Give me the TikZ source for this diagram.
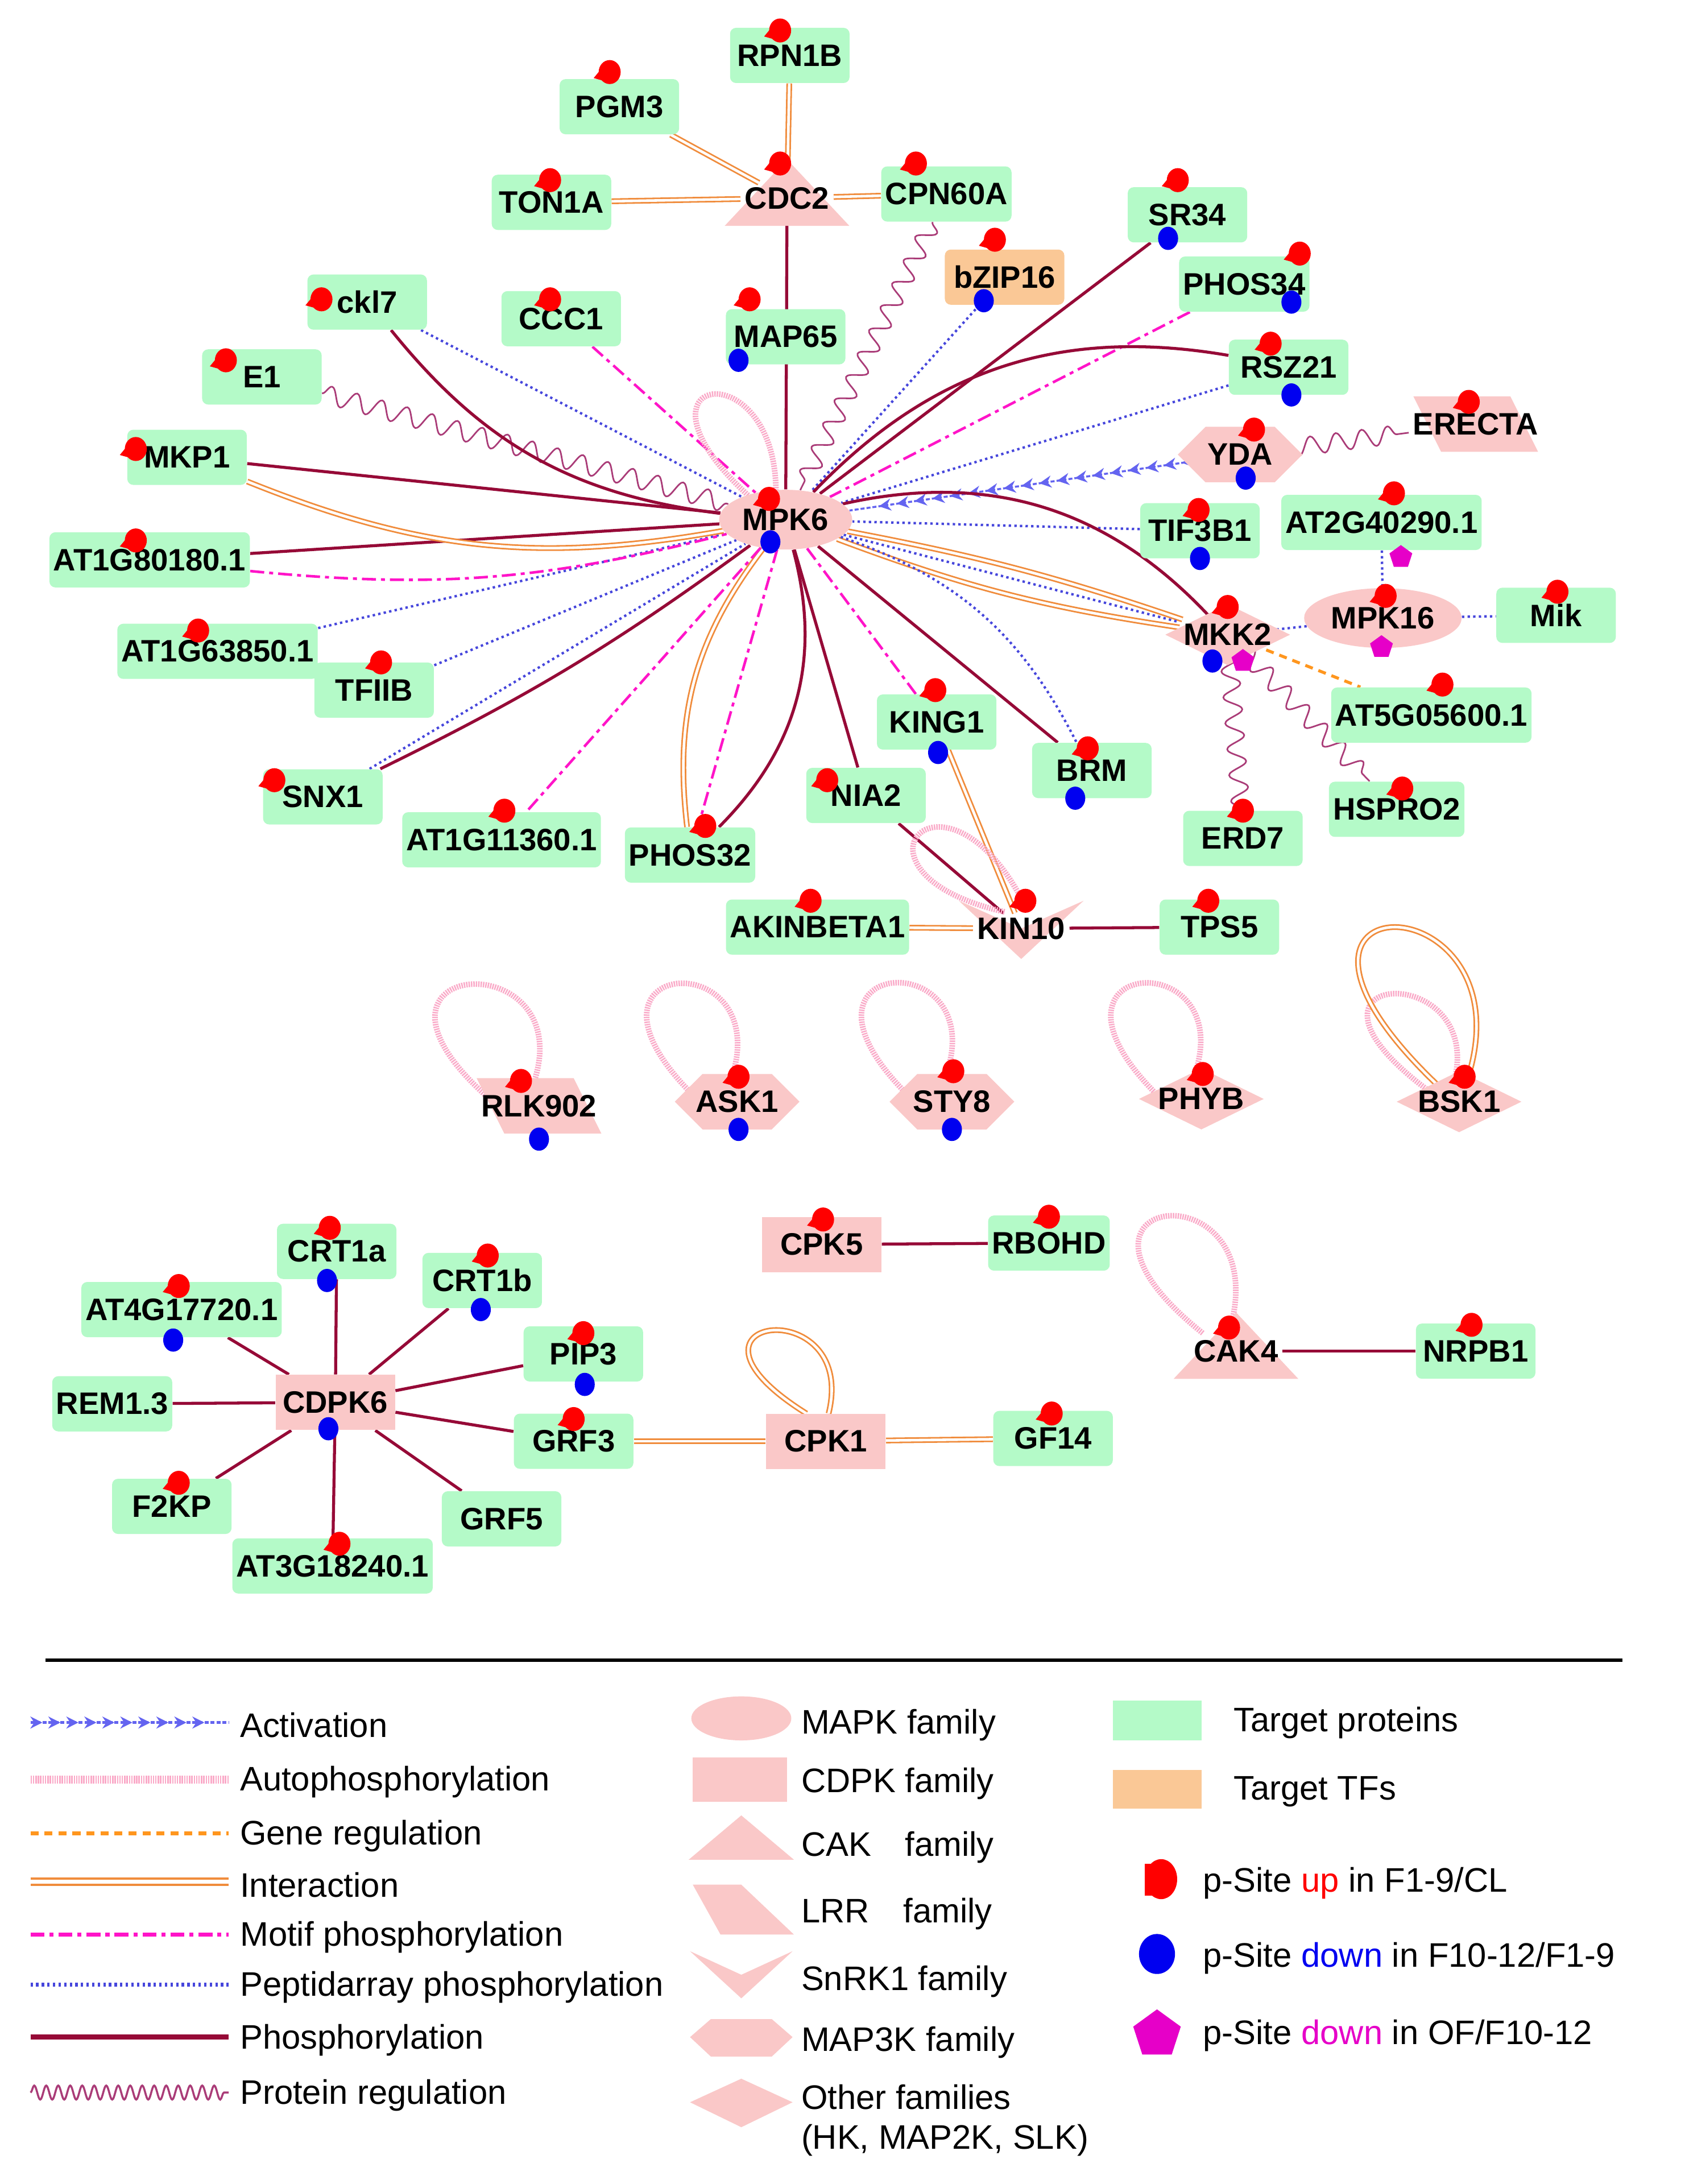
\documentclass[tikz,border=0pt]{standalone}
\usepackage{fontspec}
\setmainfont{Liberation Sans}
\usetikzlibrary{shapes.geometric,decorations.pathmorphing,decorations.markings,arrows.meta,backgrounds}
\definecolor{tgreen}{RGB}{180,250,200}
\definecolor{tfor}{RGB}{250,200,150}
\definecolor{pk}{RGB}{250,200,200}
\definecolor{phosc}{RGB}{150,10,55}
\definecolor{intc}{RGB}{240,140,60}
\definecolor{pepc}{RGB}{70,70,220}
\definecolor{motc}{RGB}{255,20,200}
\definecolor{protc}{RGB}{170,60,120}
\definecolor{autoc}{RGB}{250,170,200}
\definecolor{actc}{RGB}{100,100,240}
\definecolor{genec}{RGB}{255,150,30}
\definecolor{pred}{RGB}{255,0,0}
\definecolor{pblue}{RGB}{0,0,240}
\definecolor{pmag}{RGB}{230,0,200}
\tikzset{
 lab/.style={font=\fontsize{15.5}{17}\selectfont\bfseries, inner sep=2pt},
 tg/.style={lab, fill=tgreen, rounded corners=3pt, minimum width=2.1cm, minimum height=0.97cm},
 tf/.style={tg, fill=tfor},
 kel/.style={lab, ellipse, fill=pk, minimum width=2.0cm, minimum height=1.05cm},
 krect/.style={lab, fill=pk, minimum width=2.1cm, minimum height=0.97cm},
 kt/.style={lab},
 phos/.style={draw=phosc, line width=1.5pt},
 inter/.style={draw=intc, double=white, double distance=1.3pt, line width=0.8pt},
 pep/.style={draw=pepc, line width=1.2pt, dash pattern=on 1.2pt off 1.6pt},
 mot/.style={draw=motc, line width=1.3pt, dash pattern=on 7pt off 2.5pt on 2pt off 2.5pt},
 prot/.style={draw=protc, line width=0.8pt, decorate, decoration={snake, amplitude=4.5pt, segment length=13pt}},
 auto/.style={draw=autoc, line width=2.8pt, dash pattern=on 0.7pt off 0.5pt},
 act/.style={draw=actc, line width=1pt, dash pattern=on 2pt off 1pt, postaction={decorate}, decoration={markings, mark=between positions 0.06 and 0.96 step 9pt with {\arrow[actc]{Stealth[length=6pt,width=6pt]}}}},
 gene/.style={draw=genec, line width=1.5pt, dash pattern=on 4pt off 3pt},
}
\newcommand\pu[2]{\fill[pred] (#1,#2) circle[x radius=5.5pt,y radius=6pt]; \fill[pred] (#1,#2) +(-8pt,-3pt) -- +(-1pt,5.5pt) -- +(1pt,-5.5pt) -- cycle;}
\newcommand\pd[2]{\fill[pblue] (#1,#2) circle[x radius=5pt,y radius=5.8pt];}
\newcommand\pmg[2]{\node[regular polygon, regular polygon sides=5, fill=pmag, minimum size=12pt, inner sep=0pt] at (#1,#2) {};}
\newcommand\ktri[2]{\fill[pk] ({#1-45},{#2+20}) -- ({#1+45},{#2+20}) -- ({#1},{#2-28}) -- cycle;}
\newcommand\kpar[2]{\fill[pk] ({#1-45},{#2-20}) -- ({#1+25},{#2-20}) -- ({#1+45},{#2+20}) -- ({#1-25},{#2+20}) -- cycle;}
\newcommand\khex[2]{\fill[pk] ({#1-45},{#2}) -- ({#1-25},{#2-20}) -- ({#1+25},{#2-20}) -- ({#1+45},{#2}) -- ({#1+25},{#2+20}) -- ({#1-25},{#2+20}) -- cycle;}
\newcommand\kdia[2]{\fill[pk] ({#1-45},{#2}) -- ({#1},{#2-22}) -- ({#1+45},{#2}) -- ({#1},{#2+22}) -- cycle;}
\newcommand\kchev[2]{\fill[pk] ({#1-45},{#2-20}) -- ({#1},{#2}) -- ({#1+45},{#2-20}) -- ({#1},{#2+22}) -- cycle;}
\begin{document}
\begin{tikzpicture}[x=0.02436cm,y=-0.02436cm]
\useasboundingbox (0,0) rectangle (1216,1576);
% kinase shapes
\ktri{568}{143} \ktri{892}{975}
\kpar{1065}{306} \kpar{389}{798}
\khex{895}{328} \khex{532}{795} \khex{687}{795}
\kdia{886}{458} \kdia{867}{793} \kdia{1053}{795}
\kchev{737}{670}
% nodes
\node[tg] (RPN1B) at (570,40) {RPN1B};
\node[tg] (PGM3) at (447,77) {PGM3};
\node[tg] (TON1A) at (398,146) {TON1A};
\node[kt] (CDC2) at (568,143) {CDC2};
\node[tg] (CPN60A) at (683,140) {CPN60A};
\node[tg] (SR34) at (857,155) {SR34};
\node[tf] (bZIP16) at (725,200) {bZIP16};
\node[tg] (PHOS34) at (898,205) {PHOS34};
\node[tg] (ckl7) at (265,218) {ckl7};
\node[tg] (CCC1) at (405,230) {CCC1};
\node[tg] (MAP65) at (567,243) {MAP65};
\node[tg] (E1) at (189,272) {E1};
\node[tg] (RSZ21) at (930,265) {RSZ21};
\node[kt] (ERECTA) at (1065,306) {ERECTA};
\node[kt] (YDA) at (895,328) {YDA};
\node[tg] (MKP1) at (135,330) {MKP1};
\node[kel] (MPK6) at (567,375) {MPK6};
\node[tg] (AT1G80180) at (108,404) {AT1G80180.1};
\node[tg] (TIF3B1) at (866,383) {TIF3B1};
\node[tg] (AT2G40290) at (997,377) {AT2G40290.1};
\node[kel] (MPK16) at (998,446) {MPK16};
\node[tg] (Mik) at (1123,444) {Mik};
\node[kt] (MKK2) at (886,458) {MKK2};
\node[tg] (AT1G63850) at (157,470) {AT1G63850.1};
\node[tg] (TFIIB) at (270,498) {TFIIB};
\node[tg] (AT5G05600) at (1033,516) {AT5G05600.1};
\node[tg] (KING1) at (676,521) {KING1};
\node[tg] (BRM) at (788,556) {BRM};
\node[tg] (SNX1) at (233,575) {SNX1};
\node[tg] (NIA2) at (625,574) {NIA2};
\node[tg] (AT1G11360) at (362,606) {AT1G11360.1};
\node[tg] (PHOS32) at (498,617) {PHOS32};
\node[tg] (ERD7) at (897,605) {ERD7};
\node[tg] (HSPRO2) at (1008,584) {HSPRO2};
\node[tg] (AKINBETA1) at (590,669) {AKINBETA1};
\node[kt] (KIN10) at (737,670) {KIN10};
\node[tg] (TPS5) at (880,669) {TPS5};
\node[kt] (RLK902) at (389,798) {RLK902};
\node[kt] (ASK1) at (532,795) {ASK1};
\node[kt] (STY8) at (687,795) {STY8};
\node[kt] (PHYB) at (867,793) {PHYB};
\node[kt] (BSK1) at (1053,795) {BSK1};
\node[krect] (CPK5) at (593,898) {CPK5};
\node[tg] (RBOHD) at (757,897) {RBOHD};
\node[kt] (CAK4) at (892,975) {CAK4};
\node[tg] (NRPB1) at (1065,975) {NRPB1};
\node[tg] (CRT1a) at (243,903) {CRT1a};
\node[tg] (CRT1b) at (348,924) {CRT1b};
\node[tg] (AT4G17720) at (131,945) {AT4G17720.1};
\node[tg] (PIP3) at (421,977) {PIP3};
\node[tg] (REM13) at (81,1013) {REM1.3};
\node[krect] (CDPK6) at (242,1012) {CDPK6};
\node[tg] (GRF3) at (414,1040) {GRF3};
\node[krect] (CPK1) at (596,1040) {CPK1};
\node[tg] (GF14) at (760,1038) {GF14};
\node[tg] (F2KP) at (124,1087) {F2KP};
\node[tg] (GRF5) at (362,1096) {GRF5};
\node[tg] (AT3G18240) at (240,1130) {AT3G18240.1};
% edges
\begin{pgfonlayer}{background}
\fill[white] (0,0) rectangle (1216,1576);
\draw[inter] (RPN1B) -- (CDC2);
\draw[inter] (PGM3) -- (CDC2);
\draw[inter] (TON1A) -- (CDC2);
\draw[inter] (CPN60A) -- (CDC2);
\draw[phos] (CDC2) -- (MPK6);
\draw[prot] (CPN60A) -- (MPK6);
\draw[pep] (bZIP16) -- (MPK6);
\draw[phos] (SR34) -- (MPK6);
\draw[mot] (PHOS34) -- (MPK6);
\draw[phos] (MPK6) to[bend left=28] (RSZ21);
\draw[pep] (RSZ21) -- (MPK6);
\draw[act] (YDA) -- (MPK6);
\draw[prot] (YDA) -- (ERECTA);
\draw[pep] (TIF3B1) -- (MPK6);
\draw[phos] (MPK6) to[bend left=30] (MKK2);
\draw[inter] (MPK6) to[bend left=4] (MKK2);
\draw[inter] (MPK6) to[bend right=6] (MKK2);
\draw[pep] (MPK6) -- (MKK2);
\draw[pep] (AT2G40290) -- (MPK16);
\draw[pep] (MPK16) -- (MKK2);
\draw[pep] (MPK16) -- (Mik);
\draw[gene] (MKK2) -- (AT5G05600);
\draw[prot] (MKK2) -- (ERD7);
\draw[prot] (MKK2) -- (HSPRO2);
\draw[phos] (MPK6) -- (BRM);
\draw[pep] (MPK6) to[bend left=22] (BRM);
\draw[mot] (MPK6) -- (KING1);
\draw[inter] (KING1) -- (KIN10);
\draw[phos] (MPK6) -- (NIA2);
\draw[phos] (NIA2) -- (KIN10);
\draw[inter] (MPK6) to[bend right=22] (PHOS32);
\draw[mot] (MPK6) -- (PHOS32);
\draw[phos] (MPK6) to[bend left=30] (PHOS32);
\draw[mot] (MPK6) -- (AT1G11360);
\draw[phos] (SNX1) to[bend right=5] (MPK6);
\draw[pep] (SNX1) -- (MPK6);
\draw[pep] (TFIIB) -- (MPK6);
\draw[pep] (AT1G63850) -- (MPK6);
\draw[phos] (AT1G80180) -- (MPK6);
\draw[mot] (AT1G80180) to[bend right=10] (MPK6);
\draw[phos] (MKP1) -- (MPK6);
\draw[inter] (MKP1) to[bend right=16] (MPK6);
\draw[prot] (E1) -- (MPK6);
\draw[phos] (ckl7) to[bend right=22] (MPK6);
\draw[pep] (ckl7) -- (MPK6);
\draw[mot] (CCC1) -- (MPK6);
\draw[auto] (545,362) .. controls (440,270) and (560,250) .. (560,355);
\draw[inter] (AKINBETA1) -- (KIN10);
\draw[phos] (KIN10) -- (TPS5);
\draw[auto] (725,658) .. controls (600,630) and (680,540) .. (738,650);
\draw[auto] (350,790) .. controls (240,690) and (420,680) .. (385,782);
\draw[auto] (500,790) .. controls (400,690) and (560,680) .. (528,778);
\draw[auto] (655,790) .. controls (555,690) and (715,680) .. (683,775);
\draw[auto] (835,790) .. controls (735,690) and (895,680) .. (862,776);
\draw[auto] (1035,790) .. controls (910,700) and (1070,690) .. (1050,778);
\draw[inter] (1045,790) .. controls (870,630) and (1110,630) .. (1058,782);
\draw[auto] (868,962) .. controls (740,860) and (920,840) .. (888,958);
\draw[phos] (CAK4) -- (NRPB1);
\draw[phos] (CPK5) -- (RBOHD);
\draw[inter] (GRF3) -- (CPK1);
\draw[inter] (CPK1) -- (GF14);
\draw[inter] (582,1020) .. controls (470,950) and (620,930) .. (598,1020);
\foreach \t in {CRT1a,CRT1b,AT4G17720,PIP3,REM13,GRF3,F2KP,GRF5,AT3G18240}
  \draw[phos] (CDPK6) -- (\t);
\end{pgfonlayer}
% markers
\pu{563}{22} \pu{440}{52} \pu{397}{130} \pu{563}{118} \pu{661}{118}
\pu{850}{130} \pu{718}{173} \pu{938}{183} \pu{232}{216} \pu{397}{216}
\pu{541}{216} \pu{163}{260} \pu{917}{248} \pu{1060}{290} \pu{905}{310}
\pu{98}{324} \pu{555}{360} \pu{98}{390} \pu{865}{368} \pu{1006}{356}
\pu{1000}{430} \pu{1124}{427} \pu{886}{438} \pu{143}{455} \pu{275}{478}
\pu{1041}{494} \pu{675}{498} \pu{785}{540} \pu{198}{563} \pu{597}{563}
\pu{364}{585} \pu{509}{596} \pu{897}{585} \pu{1012}{569} \pu{585}{650}
\pu{740}{650} \pu{872}{650} \pu{376}{780} \pu{533}{777} \pu{688}{773}
\pu{868}{775} \pu{1057}{777} \pu{594}{880} \pu{757}{878} \pu{887}{958}
\pu{1062}{956} \pu{238}{886} \pu{352}{906} \pu{129}{928} \pu{421}{962}
\pu{414}{1024} \pu{759}{1020} \pu{129}{1070} \pu{245}{1114}
\pd{843}{172} \pd{710}{217} \pd{932}{218} \pd{533}{260} \pd{932}{285}
\pd{899}{345} \pd{556}{391} \pd{866}{403} \pd{875}{477} \pd{677}{543}
\pd{776}{576} \pd{389}{822} \pd{533}{815} \pd{687}{815} \pd{236}{924}
\pd{347}{945} \pd{125}{967} \pd{422}{999} \pd{237}{1031}
\pmg{1011}{402} \pmg{997}{467} \pmg{897}{477}
% divider
\draw[line width=1.5pt] (33,1198) -- (1171,1198);
% legend
\begin{scope}[every node/.style={font=\fontsize{17}{20}\selectfont, anchor=west, inner sep=0pt}]
\draw[act, line width=1.6pt] (22,1243) -- (165,1243); \node at (173,1245) {Activation};
\draw[auto, line width=4pt] (22,1284) -- (165,1284); \node at (173,1286) {Autophosphorylation};
\draw[gene, line width=2.2pt] (22,1323) -- (165,1323); \node at (173,1325) {Gene regulation};
\draw[inter, line width=1.1pt, double distance=2pt] (22,1358) -- (165,1358); \node at (173,1360) {Interaction};
\draw[mot, line width=2pt] (22,1396) -- (165,1396); \node at (173,1398) {Motif phosphorylation};
\draw[pep, line width=2pt] (22,1432) -- (165,1432); \node at (173,1434) {Peptidarray phosphorylation};
\draw[phos, line width=2.5pt] (22,1470) -- (165,1470); \node at (173,1472) {Phosphorylation};
\draw[prot, line width=1pt, decoration={snake, amplitude=3.5pt, segment length=6pt}] (22,1510) -- (165,1510); \node at (173,1512) {Protein regulation};
\fill[pk] (535,1240) ellipse[x radius=25pt, y radius=11pt];
\node at (578,1245) {MAPK family};
\fill[pk] (500,1268) rectangle (568,1300); \node at (578,1287) {CDPK family};
\fill[pk] (497,1342) -- (573,1342) -- (535,1310) -- cycle; \node at (578,1333) {CAK\quad family};
\fill[pk] (500,1360) -- (535,1360) -- (573,1396) -- (520,1396) -- cycle; \node at (578,1381) {LRR\quad family};
\fill[pk] (498,1408) -- (535,1425) -- (572,1408) -- (535,1442) -- cycle; \node at (578,1430) {SnRK1 family};
\fill[pk] (498,1470) -- (513,1457) -- (557,1457) -- (572,1470) -- (557,1484) -- (513,1484) -- cycle; \node at (578,1474) {MAP3K family};
\fill[pk] (498,1517) -- (535,1500) -- (572,1517) -- (535,1535) -- cycle;
\node[align=left] at (578,1530) {Other families\\(HK, MAP2K, SLK)};
\fill[tgreen] (803,1227) rectangle (867,1256); \node at (890,1243) {Target proteins};
\fill[tfor] (803,1277) rectangle (867,1305); \node at (890,1293) {Target TFs};
\fill[pred] (838,1356) circle[x radius=8pt, y radius=10pt];
\fill[pred] (826,1345) rectangle (833,1368);
\node at (868,1359) {p-Site \textcolor{pred}{up} in F1-9/CL};
\fill[pblue] (835,1410) circle[x radius=9pt, y radius=10pt];
\node at (868,1413) {p-Site \textcolor{pblue}{down} in F10-12/F1-9};
\node[regular polygon, regular polygon sides=5, fill=pmag, minimum size=25pt, anchor=center] at (835,1468) {};
\node at (868,1469) {p-Site \textcolor{pmag}{down} in OF/F10-12};
\end{scope}
\end{tikzpicture}
\end{document}
